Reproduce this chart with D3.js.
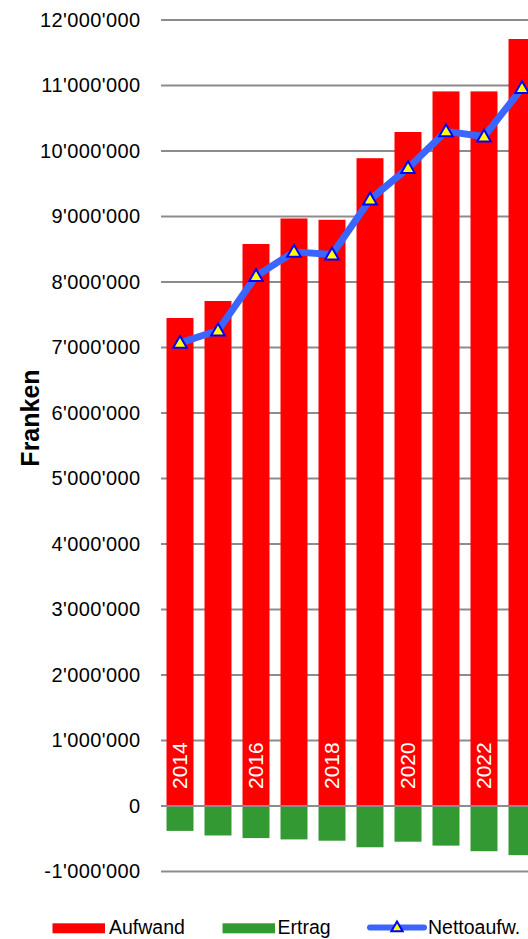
<!DOCTYPE html>
<html><head><meta charset="utf-8">
<script src="https://cdn.jsdelivr.net/npm/d3@7"></script>
<style>body{margin:0;background:#fff}svg{display:block;font-family:"Liberation Sans",Arial,sans-serif}</style>
</head><body><svg id="c" width="528" height="939"></svg>
<script>
const years = ["2014","2015","2016","2017","2018","2019","2020","2021","2022","2023"];
const aufwand = [7450000,7710000,8580000,8970000,8950000,9890000,10290000,10910000,10910000,11710000];
const ertrag = [-380000,-450000,-490000,-510000,-530000,-630000,-545000,-605000,-690000,-750000];
const netto = [7070000,7260000,8090000,8460000,8420000,9260000,9740000,10300000,10220000,10960000];
const yTicks = [-1000000,0,1000000,2000000,3000000,4000000,5000000,6000000,7000000,8000000,9000000,10000000,11000000,12000000];
const labeledYears = ["2014","2016","2018","2020","2022"];

const svg = d3.select("#c");
const y = d3.scaleLinear().domain([-1000000,12000000]).range([871.5,20]);
const x = d3.scaleBand().domain(years).range([161,161+38*years.length]).paddingInner(0.29).paddingOuter(0.145);
const fmt = v => (v<0?"-":"") + d3.format(",")(Math.abs(v)).replace(/,/g,"'");

// gridlines
svg.append("g").selectAll("line").data(yTicks).join("line")
  .attr("x1",161).attr("x2",600).attr("y1",d=>y(d)).attr("y2",d=>y(d))
  .attr("stroke","#8c8c8c").attr("stroke-width",2);

// y axis labels
const ax = svg.append("g").attr("transform","translate(140.5,0)")
  .call(d3.axisLeft(y).tickValues(yTicks).tickFormat(fmt).tickSize(0).tickPadding(0));
ax.select(".domain").remove();
ax.selectAll("text").attr("font-size",20).attr("letter-spacing",0.4).attr("fill","#000").attr("font-family","'Liberation Sans',Arial,sans-serif");

svg.append("text").attr("transform","translate(38.5,418) rotate(-90)").attr("text-anchor","middle")
  .attr("font-size",25).attr("font-weight","bold").text("Franken");

// bars
svg.append("g").selectAll("rect").data(years).join("rect")
  .attr("x",d=>x(d)).attr("width",x.bandwidth())
  .attr("y",(d,i)=>y(aufwand[i])).attr("height",(d,i)=>y(0)-y(aufwand[i]))
  .attr("fill","#ff0000");
svg.append("g").selectAll("rect").data(years).join("rect")
  .attr("x",d=>x(d)).attr("width",x.bandwidth())
  .attr("y",y(0)).attr("height",(d,i)=>y(ertrag[i])-y(0))
  .attr("fill","#339933");
// zero line over bars
svg.append("line").attr("x1",161).attr("x2",600).attr("y1",y(0)).attr("y2",y(0)).attr("stroke","#8c8c8c").attr("stroke-width",2);

// year labels
svg.append("g").selectAll("text").data(labeledYears).join("text")
  .attr("transform",d=>`translate(${x(d)+x.bandwidth()/2+7},789) rotate(-90)`)
  .attr("fill","#fff").attr("font-size",21).text(d=>d);

// line
const cx = d=>x(d)+x.bandwidth()/2;
svg.append("path").datum(years)
  .attr("d",d3.line().x(d=>cx(d)).y((d,i)=>y(netto[i])))
  .attr("fill","none").attr("stroke","#3a66ff").attr("stroke-width",7).attr("stroke-linejoin","round");
const tri = d3.symbol().type(d3.symbolTriangle).size(80);
svg.append("g").selectAll("path").data(years).join("path")
  .attr("d",tri).attr("transform",(d,i)=>`translate(${cx(d)},${y(netto[i])+1})`)
  .attr("fill","#ffff00").attr("stroke","#0000ff").attr("stroke-width",2);

// legend
const lg = svg.append("g").attr("font-size",19.5);
lg.append("rect").attr("x",52.5).attr("y",923.3).attr("width",52.5).attr("height",10).attr("fill","#ff0000");
lg.append("text").attr("x",109).attr("y",934).text("Aufwand");
lg.append("rect").attr("x",222.5).attr("y",923.3).attr("width",52.5).attr("height",10).attr("fill","#339933");
lg.append("text").attr("x",277.5).attr("y",934).text("Ertrag");
lg.append("line").attr("x1",370).attr("x2",424).attr("y1",927.5).attr("y2",927.5).attr("stroke","#3a66ff").attr("stroke-width",6).attr("stroke-linecap","round");
lg.append("path").attr("d",d3.symbol().type(d3.symbolTriangle).size(55)).attr("transform","translate(397,928)")
  .attr("fill","#ffff00").attr("stroke","#0000ff").attr("stroke-width",2);
lg.append("text").attr("x",428).attr("y",934).text("Nettoaufw.");
</script></body></html>
